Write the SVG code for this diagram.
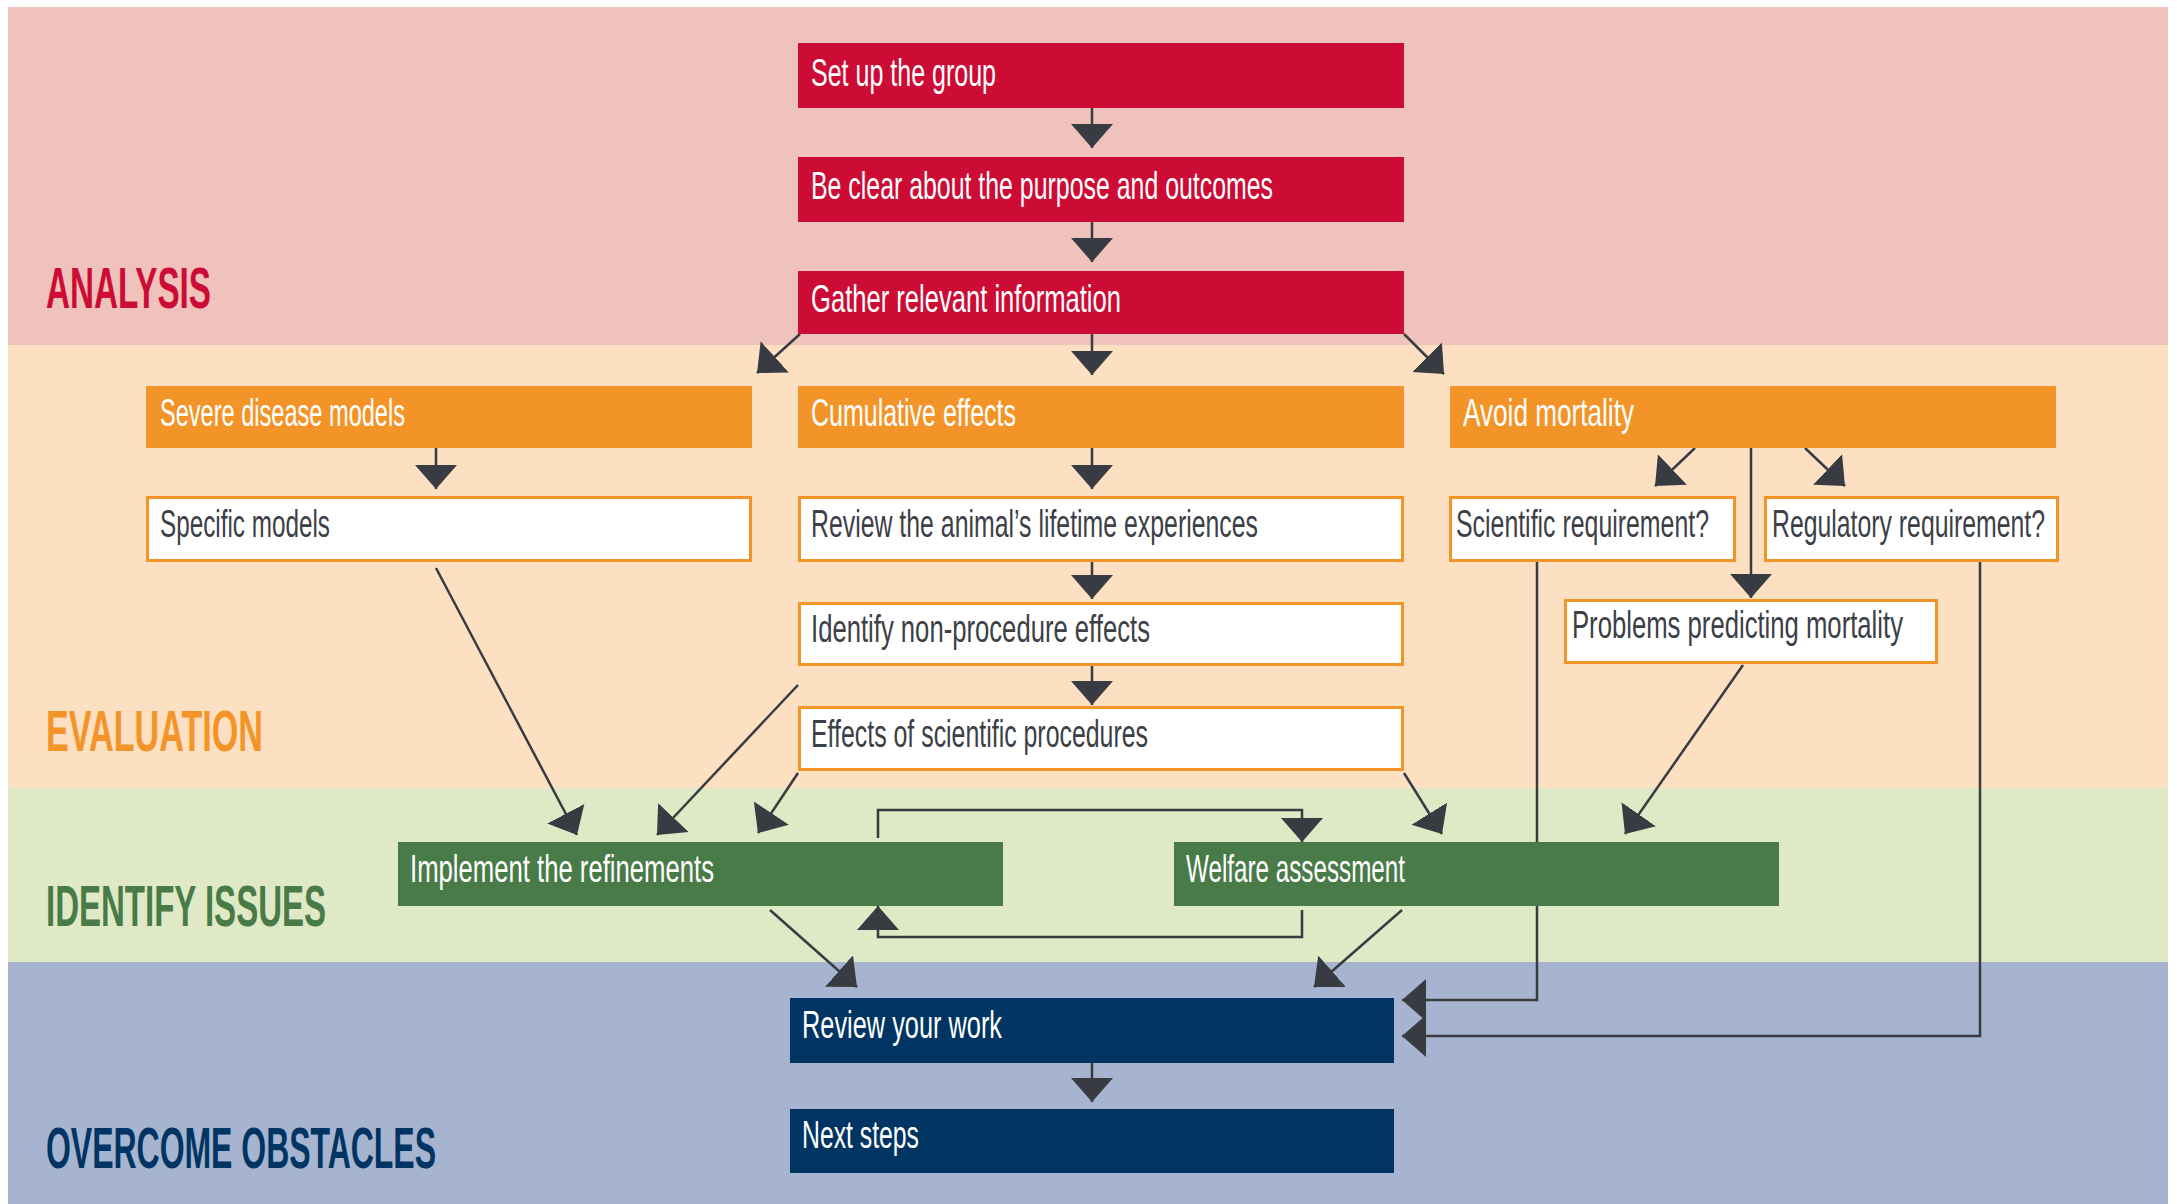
<svg xmlns="http://www.w3.org/2000/svg" width="2177" height="1204" viewBox="0 0 2177 1204">
<defs>
<style>
.t{font-family:"Liberation Sans",Arial,sans-serif;font-size:38px;}
.w{fill:#ffffff;}
.d{fill:#3c4047;}
.title{font-family:"Liberation Sans",Arial,sans-serif;font-size:57px;font-weight:bold;}
.red{fill:#CC0C35;}
.org{fill:#F39429;}
.grn{fill:#487B48;}
.nav{fill:#003563;}
.wb{fill:#ffffff;stroke:#F39429;stroke-width:3;}
.c{fill:none;stroke:#383b42;stroke-width:2.5;marker-end:url(#ah);}
</style>
<marker id="ah" markerUnits="userSpaceOnUse" markerWidth="24" markerHeight="44" viewBox="0 -22 24 44" refX="24" refY="0" orient="auto">
<path d="M0,-21 L24,0 L0,21 Z" fill="#383b42"/>
</marker>
</defs>
<rect x="0" y="0" width="2177" height="1204" fill="#ffffff"/>
<g id="bands">
<rect x="8" y="7" width="2160" height="338" fill="#F0C2BC"/>
<rect x="8" y="345" width="2160" height="443" fill="#FDDFC2"/>
<rect x="8" y="788" width="2160" height="174" fill="#DFE9C5"/>
<rect x="8" y="962" width="2160" height="242" fill="#A7B4CF"/>
</g>
<g id="titles">
<text class="title red" transform="translate(46,308) scale(0.58,1)" textLength="284.5" lengthAdjust="spacingAndGlyphs">ANALYSIS</text>
<text class="title org" transform="translate(46,751) scale(0.58,1)" textLength="374.1" lengthAdjust="spacingAndGlyphs">EVALUATION</text>
<text class="title grn" transform="translate(46,926) scale(0.58,1)" textLength="482.8" lengthAdjust="spacingAndGlyphs">IDENTIFY ISSUES</text>
<text class="title nav" transform="translate(46,1168) scale(0.58,1)" textLength="672.4" lengthAdjust="spacingAndGlyphs">OVERCOME OBSTACLES</text>
</g>
<g id="connectors">
<path class="c" d="M1092 108 V148"/>
<path class="c" d="M1092 222 V262"/>
<path class="c" d="M1092 334 V375"/>
<path class="c" d="M800 334 L757 373"/>
<path class="c" d="M1404 334 L1444 374"/>
<path class="c" d="M436 448 V489"/>
<path class="c" d="M1092 448 V489"/>
<path class="c" d="M1092 562 V599"/>
<path class="c" d="M1092 666 V705"/>
<path class="c" d="M1695 448 L1655 486"/>
<path class="c" d="M1805 448 L1845 486"/>
<path class="c" d="M1751 448 V598"/>
<path class="c" d="M436 568 L577 835"/>
<path class="c" d="M798 685 L657 835"/>
<path class="c" d="M798 773 L758 833"/>
<path class="c" d="M1404 773 L1442 834"/>
<path class="c" d="M1743 665 L1625 834"/>
<path class="c" d="M878 838 V810 H1302 V842"/>
<path class="c" d="M1302 910 V937 H878 V906"/>
<path class="c" d="M770 910 L857 987"/>
<path class="c" d="M1402 910 L1314 987"/>
<path class="c" d="M1537 562 V1000 H1402"/>
<path class="c" d="M1980 562 V1036 H1402"/>
<path class="c" d="M1092 1063 V1102"/>
</g>
<g id="n-setup">
<rect x="798" y="43" width="606" height="65" class="red"/>
<text class="t w" transform="translate(811,86) scale(0.65,1)" textLength="284.6" lengthAdjust="spacingAndGlyphs">Set up the group</text>
</g>
<g id="n-clear">
<rect x="798" y="157" width="606" height="65" class="red"/>
<text class="t w" transform="translate(811,199) scale(0.65,1)" textLength="710.8" lengthAdjust="spacingAndGlyphs">Be clear about the purpose and outcomes</text>
</g>
<g id="n-gather">
<rect x="798" y="271" width="606" height="63" class="red"/>
<text class="t w" transform="translate(811,312) scale(0.65,1)" textLength="476.9" lengthAdjust="spacingAndGlyphs">Gather relevant information</text>
</g>
<g id="n-severe">
<rect x="146" y="386" width="606" height="62" class="org"/>
<text class="t w" transform="translate(160,426) scale(0.65,1)" textLength="376.9" lengthAdjust="spacingAndGlyphs">Severe disease models</text>
</g>
<g id="n-cumulative">
<rect x="798" y="386" width="606" height="62" class="org"/>
<text class="t w" transform="translate(811,426) scale(0.65,1)" textLength="315.4" lengthAdjust="spacingAndGlyphs">Cumulative effects</text>
</g>
<g id="n-avoid">
<rect x="1450" y="386" width="606" height="62" class="org"/>
<text class="t w" transform="translate(1463,426) scale(0.65,1)" textLength="263.1" lengthAdjust="spacingAndGlyphs">Avoid mortality</text>
</g>
<g id="n-specific">
<rect x="147.5" y="497.5" width="603" height="63" class="wb"/>
<text class="t d" transform="translate(160,537) scale(0.65,1)" textLength="261.5" lengthAdjust="spacingAndGlyphs">Specific models</text>
</g>
<g id="n-review-life">
<rect x="799.5" y="497.5" width="603" height="63" class="wb"/>
<text class="t d" transform="translate(811,537) scale(0.65,1)" textLength="687.7" lengthAdjust="spacingAndGlyphs">Review the animal’s lifetime experiences</text>
</g>
<g id="n-scientific">
<rect x="1450.5" y="497.5" width="284" height="63" class="wb"/>
<text class="t d" transform="translate(1456,537) scale(0.65,1)" textLength="389.2" lengthAdjust="spacingAndGlyphs">Scientific requirement?</text>
</g>
<g id="n-regulatory">
<rect x="1765.5" y="497.5" width="292" height="63" class="wb"/>
<text class="t d" transform="translate(1772,537) scale(0.65,1)" textLength="420" lengthAdjust="spacingAndGlyphs">Regulatory requirement?</text>
</g>
<g id="n-identify">
<rect x="799.5" y="603.5" width="603" height="61" class="wb"/>
<text class="t d" transform="translate(811,642) scale(0.65,1)" textLength="521.5" lengthAdjust="spacingAndGlyphs">Identify non-procedure effects</text>
</g>
<g id="n-problems">
<rect x="1565.5" y="600.5" width="371" height="62" class="wb"/>
<text class="t d" transform="translate(1572,638) scale(0.65,1)" textLength="509.2" lengthAdjust="spacingAndGlyphs">Problems predicting mortality</text>
</g>
<g id="n-effects">
<rect x="799.5" y="707.5" width="603" height="62" class="wb"/>
<text class="t d" transform="translate(811,747) scale(0.65,1)" textLength="518.5" lengthAdjust="spacingAndGlyphs">Effects of scientific procedures</text>
</g>
<g id="n-implement">
<rect x="398" y="842" width="605" height="64" class="grn"/>
<text class="t w" transform="translate(410,882) scale(0.65,1)" textLength="467.7" lengthAdjust="spacingAndGlyphs">Implement the refinements</text>
</g>
<g id="n-welfare">
<rect x="1174" y="842" width="605" height="64" class="grn"/>
<text class="t w" transform="translate(1186,882) scale(0.65,1)" textLength="336.9" lengthAdjust="spacingAndGlyphs">Welfare assessment</text>
</g>
<g id="n-review-work">
<rect x="790" y="998" width="604" height="65" class="nav"/>
<text class="t w" transform="translate(802,1038) scale(0.65,1)" textLength="307.7" lengthAdjust="spacingAndGlyphs">Review your work</text>
</g>
<g id="n-next">
<rect x="790" y="1109" width="604" height="64" class="nav"/>
<text class="t w" transform="translate(802,1148) scale(0.65,1)" textLength="180" lengthAdjust="spacingAndGlyphs">Next steps</text>
</g>
</svg>
